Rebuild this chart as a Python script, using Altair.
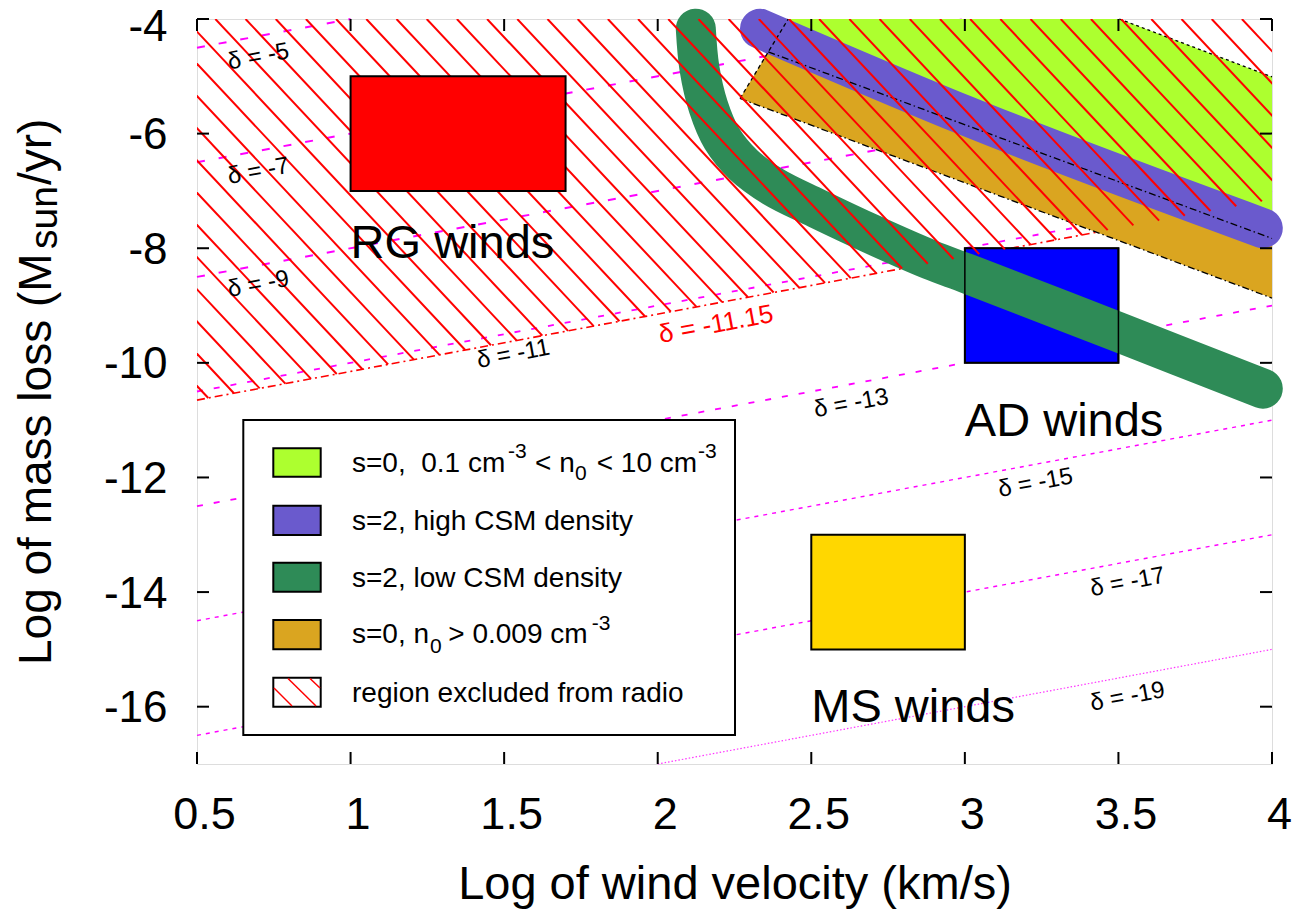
import altair as alt
import numpy as np
import pandas as pd

FONT = "Liberation Sans"
W, H = 1075, 745

# ---------------- axes ----------------
X_DOMAIN = [0.5, 4.0]
Y_DOMAIN = [-17.0, -4.0]
X_TICKS = [0.5, 1.0, 1.5, 2.0, 2.5, 3.0, 3.5, 4.0]
Y_TICKS = [-4, -6, -8, -10, -12, -14, -16]

# ---------------- wind boxes ----------------
BOX_NAMES = ["RG winds", "AD winds", "MS winds"]
BOX_X1 = [1.0, 3.0, 2.5]
BOX_X2 = [1.7, 3.5, 3.0]
BOX_Y1 = [-7.0, -10.0, -15.0]
BOX_Y2 = [-5.0, -8.0, -13.0]
BOX_COLORS = ["#ff0000", "#0000ff", "#ffd700"]
BOX_LABEL_X = [1.0, 3.0, 2.5]
BOX_LABEL_Y = [-8.17, -11.27, -16.26]

# ---------------- constant-delta lines ----------------
DELTA = [-5, -7, -9, -11, -13, -15, -17, -19]
DELTA_X1 = [0.5, 0.5, 0.5, 0.5, 0.5, 0.5, 0.5, 2.0]
DELTA_Y1 = [-4.5, -6.5, -8.5, -10.5, -12.5, -14.5, -16.5, -17.0]
DELTA_X2 = [1.0, 3.0, 4.0, 4.0, 4.0, 4.0, 4.0, 4.0]
DELTA_Y2 = [-4.0, -4.0, -5.0, -7.0, -9.0, -11.0, -13.0, -15.0]
DELTA_STYLE = ["a", "a", "a", "b", "b", "c", "c", "d"]
DELTA_LAB_X = [0.70, 0.70, 0.70, 1.53, 2.63, 3.23, 3.53, 3.53]
DELTA_LAB_Y = [-4.66, -6.66, -8.63, -9.85, -10.71, -12.10, -13.83, -15.83]

# radio exclusion boundary (delta = -11.15)
EXCL_DELTA = -11.15
EXCL_X = [0.5, 4.0]
EXCL_Y = [-10.65, -7.15]
EXCL_LAB_X = 2.19
EXCL_LAB_Y = -9.33

# ---------------- model regions ----------------
GREEN_X = [2.124, 2.136, 2.165, 2.209, 2.280, 2.376, 2.517, 2.701, 2.887, 3.017, 3.5, 3.97]
GREEN_Y = [-4.17, -4.865, -5.532, -6.083, -6.547, -6.925, -7.302, -7.766, -8.201, -8.462, -9.465, -10.45]
PURPLE_X = [2.333, 3.0, 3.97]
PURPLE_Y = [-4.17, -5.68, -7.65]
LIME_X = [2.36, 2.425, 3.503, 4.0]
LIME_TOP = [-4.574, -4.0, -4.0, -5.01]
LIME_BOTTOM = [-4.574, -4.703, -6.843, -7.83]
ORANGE_X = [2.268, 2.36, 4.0]
ORANGE_TOP = [-5.387, -4.574, -7.83]
ORANGE_BOTTOM = [-5.387, -5.572, -8.87]
EDGE_X1 = [2.268, 3.503, 2.36, 2.268]
EDGE_Y1 = [-5.387, -4.0, -4.574, -5.387]
EDGE_X2 = [2.425, 4.0, 4.0, 4.0]
EDGE_Y2 = [-4.0, -5.01, -7.83, -8.87]
EDGE_DASH = [[4, 3], [3, 3], [7, 3, 1.5, 3], [7, 3, 1.5, 3]]

# hatch pattern (top crossing, spacing, slope in data units)
HATCH_START = 1.2479
HATCH_STEP = 0.0983
HATCH_SLOPE = -5.719

COL_LIME = "#adff2f"
COL_PURPLE = "#6a5acd"
COL_GREEN = "#2e8b57"
COL_ORANGE = "#daa520"
MAGENTA = "#ff00ff"
NB = "\u00a0"

x_scale = alt.Scale(domain=X_DOMAIN, nice=False, zero=False)
y_scale = alt.Scale(domain=Y_DOMAIN, nice=False, zero=False)
x_axis = alt.Axis(values=X_TICKS, labelExpr="'' + datum.value", labelFont=FONT,
                  labelFontSize=45, labelColor="black", labelBaseline="alphabetic",
                  labelPadding=64, labelOffset=7, labelFlush=False, labelOverlap=False,
                  ticks=False, tickSize=0, domain=False, grid=False,
                  title="Log of wind velocity (km/s)", titleFont=FONT, titleFontSize=47,
                  titleFontWeight="normal", titleColor="black",
                  titleBaseline="alphabetic", titleY=134)
y_axis = alt.Axis(values=Y_TICKS, labelExpr="'' + datum.value", labelFont=FONT,
                  labelFontSize=44, labelColor="black", labelAlign="right",
                  labelBaseline="middle", labelPadding=30,
                  labelOffset=alt.condition("datum.value == -4", alt.value(8), alt.value(2)),
                  labelFlush=False,
                  labelOverlap=False, ticks=False, tickSize=0, domain=False, grid=False,
                  title=None)


def X(f):
    return alt.X(f"{f}:Q", scale=x_scale, axis=x_axis)


def Y(f):
    return alt.Y(f"{f}:Q", scale=y_scale, axis=y_axis)


layers = []

# delta lines
ddf = pd.DataFrame({"d": DELTA, "x": DELTA_X1, "y": DELTA_Y1, "x2": DELTA_X2,
                    "y2": DELTA_Y2, "s": DELTA_STYLE,
                    "lx": DELTA_LAB_X, "ly": DELTA_LAB_Y})
ddf["lab"] = ["δ = " + str(v) for v in DELTA]
styles = {"a": (2.0, [8, 14], 1.0), "b": (1.8, [6, 11], 1.0),
          "c": (1.4, [4, 5], 1.0), "d": (1.2, [1.5, 2], 0.8)}
for s, (sw, dash, op) in styles.items():
    layers.append(alt.Chart(ddf[ddf.s == s]).mark_rule(
        color=MAGENTA, strokeWidth=sw, strokeDash=dash, opacity=op).encode(
        x=X("x"), y=Y("y"), x2="x2", y2="y2"))

edf = pd.DataFrame({"x": [EXCL_X[0]], "y": [EXCL_Y[0]], "x2": [EXCL_X[1]], "y2": [EXCL_Y[1]]})
layers.append(alt.Chart(edf).mark_rule(color="red", strokeWidth=1.6,
                                       strokeDash=[8, 4, 2, 4]).encode(
    x=X("x"), y=Y("y"), x2="x2", y2="y2"))

# boxes
bdf = pd.DataFrame({"name": BOX_NAMES, "x": BOX_X1, "x2": BOX_X2, "y": BOX_Y1,
                    "y2": BOX_Y2, "c": BOX_COLORS, "lx": BOX_LABEL_X, "ly": BOX_LABEL_Y})
layers.append(alt.Chart(bdf[bdf.name != "RG winds"]).mark_rect(
    stroke="black", strokeWidth=2).encode(
    x=X("x"), x2="x2", y=Y("y"), y2="y2", fill=alt.Fill("c:N", scale=None)))

# lime & orange regions
ldf = pd.DataFrame({"x": LIME_X, "y": LIME_TOP, "y2": LIME_BOTTOM})
layers.append(alt.Chart(ldf).mark_area(color=COL_LIME, opacity=1).encode(
    x=X("x"), y=Y("y"), y2="y2"))
odf = pd.DataFrame({"x": ORANGE_X, "y": ORANGE_TOP, "y2": ORANGE_BOTTOM})
layers.append(alt.Chart(odf).mark_area(color=COL_ORANGE, opacity=1).encode(
    x=X("x"), y=Y("y"), y2="y2"))

# thick bands
pdf = pd.DataFrame({"x": PURPLE_X, "y": PURPLE_Y, "i": range(len(PURPLE_X))})
layers.append(alt.Chart(pdf).mark_line(color=COL_PURPLE, strokeWidth=40,
                                       strokeCap="round", interpolate="monotone").encode(
    x=X("x"), y=Y("y"), order="i:Q"))
gdf = pd.DataFrame({"x": GREEN_X, "y": GREEN_Y, "i": range(len(GREEN_X))})
layers.append(alt.Chart(gdf).mark_line(color=COL_GREEN, strokeWidth=40,
                                       strokeCap="round", strokeJoin="round",
                                       interpolate="catmull-rom").encode(
    x=X("x"), y=Y("y"), order="i:Q"))

# AD box outline over the band
layers.append(alt.Chart(bdf[bdf.name == "AD winds"]).mark_rect(
    fillOpacity=0, stroke="black", strokeWidth=1.5).encode(
    x=X("x"), x2="x2", y=Y("y"), y2="y2"))

# region edges
for i in range(len(EDGE_X1)):
    e = pd.DataFrame({"x": [EDGE_X1[i]], "y": [EDGE_Y1[i]], "x2": [EDGE_X2[i]], "y2": [EDGE_Y2[i]]})
    layers.append(alt.Chart(e).mark_rule(color="black", strokeWidth=1.3,
                                         strokeDash=EDGE_DASH[i]).encode(
        x=X("x"), y=Y("y"), x2="x2", y2="y2"))

# hatch of excluded region
x0 = HATCH_START + HATCH_STEP * np.arange(-20, 30)
x0 = x0[(x0 > -0.75) & (x0 < 4.05)]
xb = (-HATCH_SLOPE * x0 - 4.0 - EXCL_DELTA) / (1 - HATCH_SLOPE)
hdf = pd.DataFrame({"x": x0, "y": -4.0, "x2": xb, "y2": xb + EXCL_DELTA})
layers.append(alt.Chart(hdf).mark_rule(color="red", strokeWidth=2, clip=True).encode(
    x=X("x"), y=Y("y"), x2="x2", y2="y2"))

# RG box on top of hatch
layers.append(alt.Chart(bdf[bdf.name == "RG winds"]).mark_rect(
    stroke="black", strokeWidth=2).encode(
    x=X("x"), x2="x2", y=Y("y"), y2="y2", fill=alt.Fill("c:N", scale=None)))

# box labels
layers.append(alt.Chart(bdf).mark_text(font=FONT, fontSize=47, align="left",
                                       baseline="alphabetic", color="black").encode(
    x=X("lx"), y=Y("ly"), text="name:N"))

# delta labels
layers.append(alt.Chart(ddf).mark_text(font=FONT, fontSize=24, align="center",
                                       baseline="middle", angle=349.4, color="black").encode(
    x=X("lx"), y=Y("ly"), text="lab:N"))
xl = pd.DataFrame({"lx": [EXCL_LAB_X], "ly": [EXCL_LAB_Y], "lab": ["δ = " + str(EXCL_DELTA)]})
layers.append(alt.Chart(xl).mark_text(font=FONT, fontSize=26, align="center",
                                      baseline="middle", angle=349.4, color="red").encode(
    x=X("lx"), y=Y("ly"), text="lab:N"))

# inward ticks on all four sides
xt = pd.DataFrame({"x": X_TICKS})
yt = pd.DataFrame({"y": Y_TICKS})
TL = 12
layers.append(alt.Chart(xt).mark_rule(color="black", strokeWidth=2).encode(
    x=X("x"), y=alt.value(H), y2=alt.value(H - TL)))
layers.append(alt.Chart(xt).mark_rule(color="black", strokeWidth=2).encode(
    x=X("x"), y=alt.value(0), y2=alt.value(TL)))
layers.append(alt.Chart(yt).mark_rule(color="black", strokeWidth=2).encode(
    y=Y("y"), x=alt.value(0), x2=alt.value(TL)))
layers.append(alt.Chart(yt).mark_rule(color="black", strokeWidth=2).encode(
    y=Y("y"), x=alt.value(W), x2=alt.value(W - TL)))

# ---------------- legend (drawn in pixels) ----------------
one = pd.DataFrame({"d": [0]})
LY = -2  # legend shift to follow the 2px lower plot top


def vrect(x1, x2, y1, y2, fill):
    return alt.Chart(one).mark_rect(fill=fill, stroke="black", strokeWidth=2).encode(
        x=alt.value(x1), x2=alt.value(x2), y=alt.value(y1 + LY), y2=alt.value(y2 + LY))


def vrule(x1, y1, x2, y2, color="red", sw=1.5):
    return alt.Chart(one).mark_rule(color=color, strokeWidth=sw).encode(
        x=alt.value(x1), y=alt.value(y1 + LY), x2=alt.value(x2), y2=alt.value(y2 + LY))


def vtext(t, x, y, size, angle=0):
    return alt.Chart(one).mark_text(text=t, font=FONT, fontSize=size, align="left",
                                    baseline="alphabetic", color="black",
                                    angle=angle).encode(x=alt.value(x), y=alt.value(y + LY))


LEG_SWATCH_TOP = [431.3, 488.7, 545.7, 603.0, 660.7]
LEG_SWATCH_BOT = [459.7, 518.0, 574.7, 632.3, 689.7]
LEG_FILLS = [COL_LIME, COL_PURPLE, COL_GREEN, COL_ORANGE, "white"]
layers.append(vrect(46.3, 538, 403, 718, "white"))
for t, b, f in zip(LEG_SWATCH_TOP, LEG_SWATCH_BOT, LEG_FILLS):
    layers.append(vrect(76.3, 123.7, t, b, f))
layers.append(vrule(77, 671, 95, 689))
layers.append(vrule(91, 661.5, 119, 689))
layers.append(vrule(113, 661.5, 123, 671))

# legend text pieces: (text, x, baseline y, size)
LEG_TEXT = [
    ("s=0," + NB + NB + "0.1 cm", 155, 454.7, 28), ("-3", 311, 441.3, 21),
    ("<" + NB + "n", 338, 454.7, 28),
    ("0", 378, 463.0, 21), ("<" + NB + "10 cm", 399.7, 454.7, 28), ("-3", 501, 441.3, 21),
    ("s=2, high CSM density", 155, 513.0, 28),
    ("s=2, low CSM density", 155, 569.7, 28),
    ("s=0, n", 155, 626.3, 28), ("0", 233, 636.3, 21), (">" + NB + "0.009 cm", 251.3, 626.3, 28),
    ("-3", 394.7, 613.0, 21),
    ("region excluded from radio", 155, 684.7, 28),
]
for t, x, y, s in LEG_TEXT:
    layers.append(vtext(t, x, y, s))

# y-axis title with subscript
layers.append(vtext("Log of mass loss (M", -146, 648, 46, angle=270))
layers.append(vtext("sun", -140, 232, 39, angle=270))
layers.append(vtext("/yr)", -146, 168, 46, angle=270))

chart = alt.layer(*layers).properties(
    width=W, height=H,
    autosize=alt.AutoSizeParams(type="none"),
    padding={"left": 189, "top": 11, "right": 30, "bottom": 146},
).configure_view(stroke="black", strokeWidth=2).configure(background="white")

chart.save("out.html", embed_options={"renderer": "svg", "actions": False})
